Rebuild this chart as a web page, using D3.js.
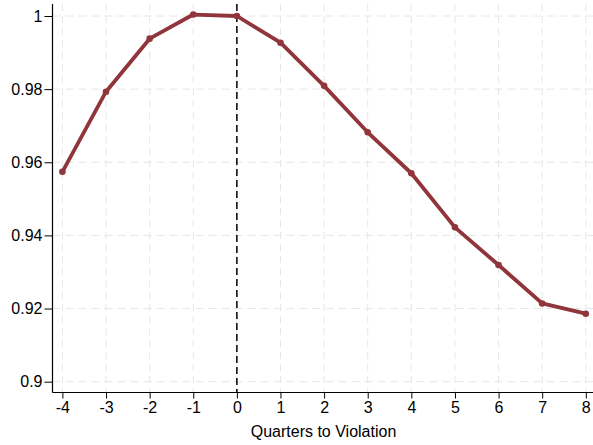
<!DOCTYPE html>
<html>
<head>
<meta charset="utf-8">
<script src="https://cdn.jsdelivr.net/npm/d3@7"></script>
<style>
html,body{margin:0;padding:0;background:#fff;}
svg{display:block;}
text{font-family:"Liberation Sans",Arial,Helvetica,sans-serif;fill:#000;}
</style>
</head>
<body>
<svg id="chart" width="593" height="445"></svg>
<script>
const quarters = [-4,-3,-2,-1,0,1,2,3,4,5,6,7,8];
const values = [0.9574,0.9793,0.9938,1.0004,1.0000,0.9927,0.9809,0.9682,0.9570,0.9422,0.9319,0.9214,0.9186];
const yTicks = [0.9,0.92,0.94,0.96,0.98,1];
const yTickLabels = ["0.9","0.92","0.94","0.96","0.98","1"];
const xTicks = [-4,-3,-2,-1,0,1,2,3,4,5,6,7,8];
const xTickLabels = ["-4","-3","-2","-1","0","1","2","3","4","5","6","7","8"];
const xTitle = "Quarters to Violation";

(function(){
const svg = d3.select("#chart");
const pLeft = 52.5, pBottom = 392.5, pTop = 4, pRight = 593;

const x = d3.scaleLinear().domain([-4,8]).range([62.4,585.8]);
const y = d3.scaleLinear().domain([0.9,1]).range([381.7,16]);

// gridlines
const grid = svg.append("g");
grid.selectAll("line.v").data(xTicks).enter().append("line").attr("class","v")
  .attr("x1",d=>x(d)).attr("x2",d=>x(d)).attr("y1",pTop).attr("y2",pBottom)
  .attr("stroke","#e6e6e6").attr("stroke-width",1).attr("stroke-dasharray","7,5");
grid.selectAll("line.h").data(yTicks).enter().append("line").attr("class","h")
  .attr("x1",pLeft).attr("x2",pRight).attr("y1",d=>y(d)).attr("y2",d=>y(d))
  .attr("stroke","#e6e6e6").attr("stroke-width",1).attr("stroke-dasharray","8,5");

// zero reference line
svg.append("line")
  .attr("x1",x(0)).attr("x2",x(0)).attr("y1",pTop).attr("y2",pBottom)
  .attr("stroke","#000").attr("stroke-width",1.5).attr("stroke-dasharray","7,4");

// axes
const xAxis = d3.axisBottom(x).tickValues(xTicks).tickFormat((d,i)=>xTickLabels[i]).tickSize(6).tickPadding(3);
const gx = svg.append("g").attr("transform",`translate(0,${pBottom})`).call(xAxis);
gx.select(".domain").attr("d",`M${pLeft},0H${pRight}`).attr("stroke","#000").attr("stroke-width",1.2);
gx.selectAll(".tick line").attr("stroke","#000").attr("stroke-width",1);
gx.selectAll(".tick text").attr("font-size",16).attr("font-family","Liberation Sans, Arial, sans-serif");

const yAxis = d3.axisLeft(y).tickValues(yTicks).tickFormat((d,i)=>yTickLabels[i]).tickSize(8).tickPadding(2);
const gy = svg.append("g").attr("transform",`translate(${pLeft},0)`).call(yAxis);
gy.select(".domain").attr("d",`M0,${pTop}V${pBottom}`).attr("stroke","#000").attr("stroke-width",1.2);
gy.selectAll(".tick line").attr("stroke","#000").attr("stroke-width",1);
gy.selectAll(".tick text").attr("font-size",16).attr("font-family","Liberation Sans, Arial, sans-serif");

// x title
svg.append("text").attr("x",323.5).attr("y",437).attr("text-anchor","middle")
  .attr("font-size",16).text(xTitle);

// series
const data = quarters.map((q,i)=>({q,v:values[i]}));
const color = "#90353b";
svg.append("path").datum(data)
  .attr("fill","none").attr("stroke",color).attr("stroke-width",3.8)
  .attr("stroke-linejoin","round")
  .attr("d",d3.line().x(d=>x(d.q)).y(d=>y(d.v)));
svg.selectAll("circle.pt").data(data).enter().append("circle").attr("class","pt")
  .attr("cx",d=>x(d.q)).attr("cy",d=>y(d.v)).attr("r",3.3).attr("fill",color);
})();
</script>
</body>
</html>
